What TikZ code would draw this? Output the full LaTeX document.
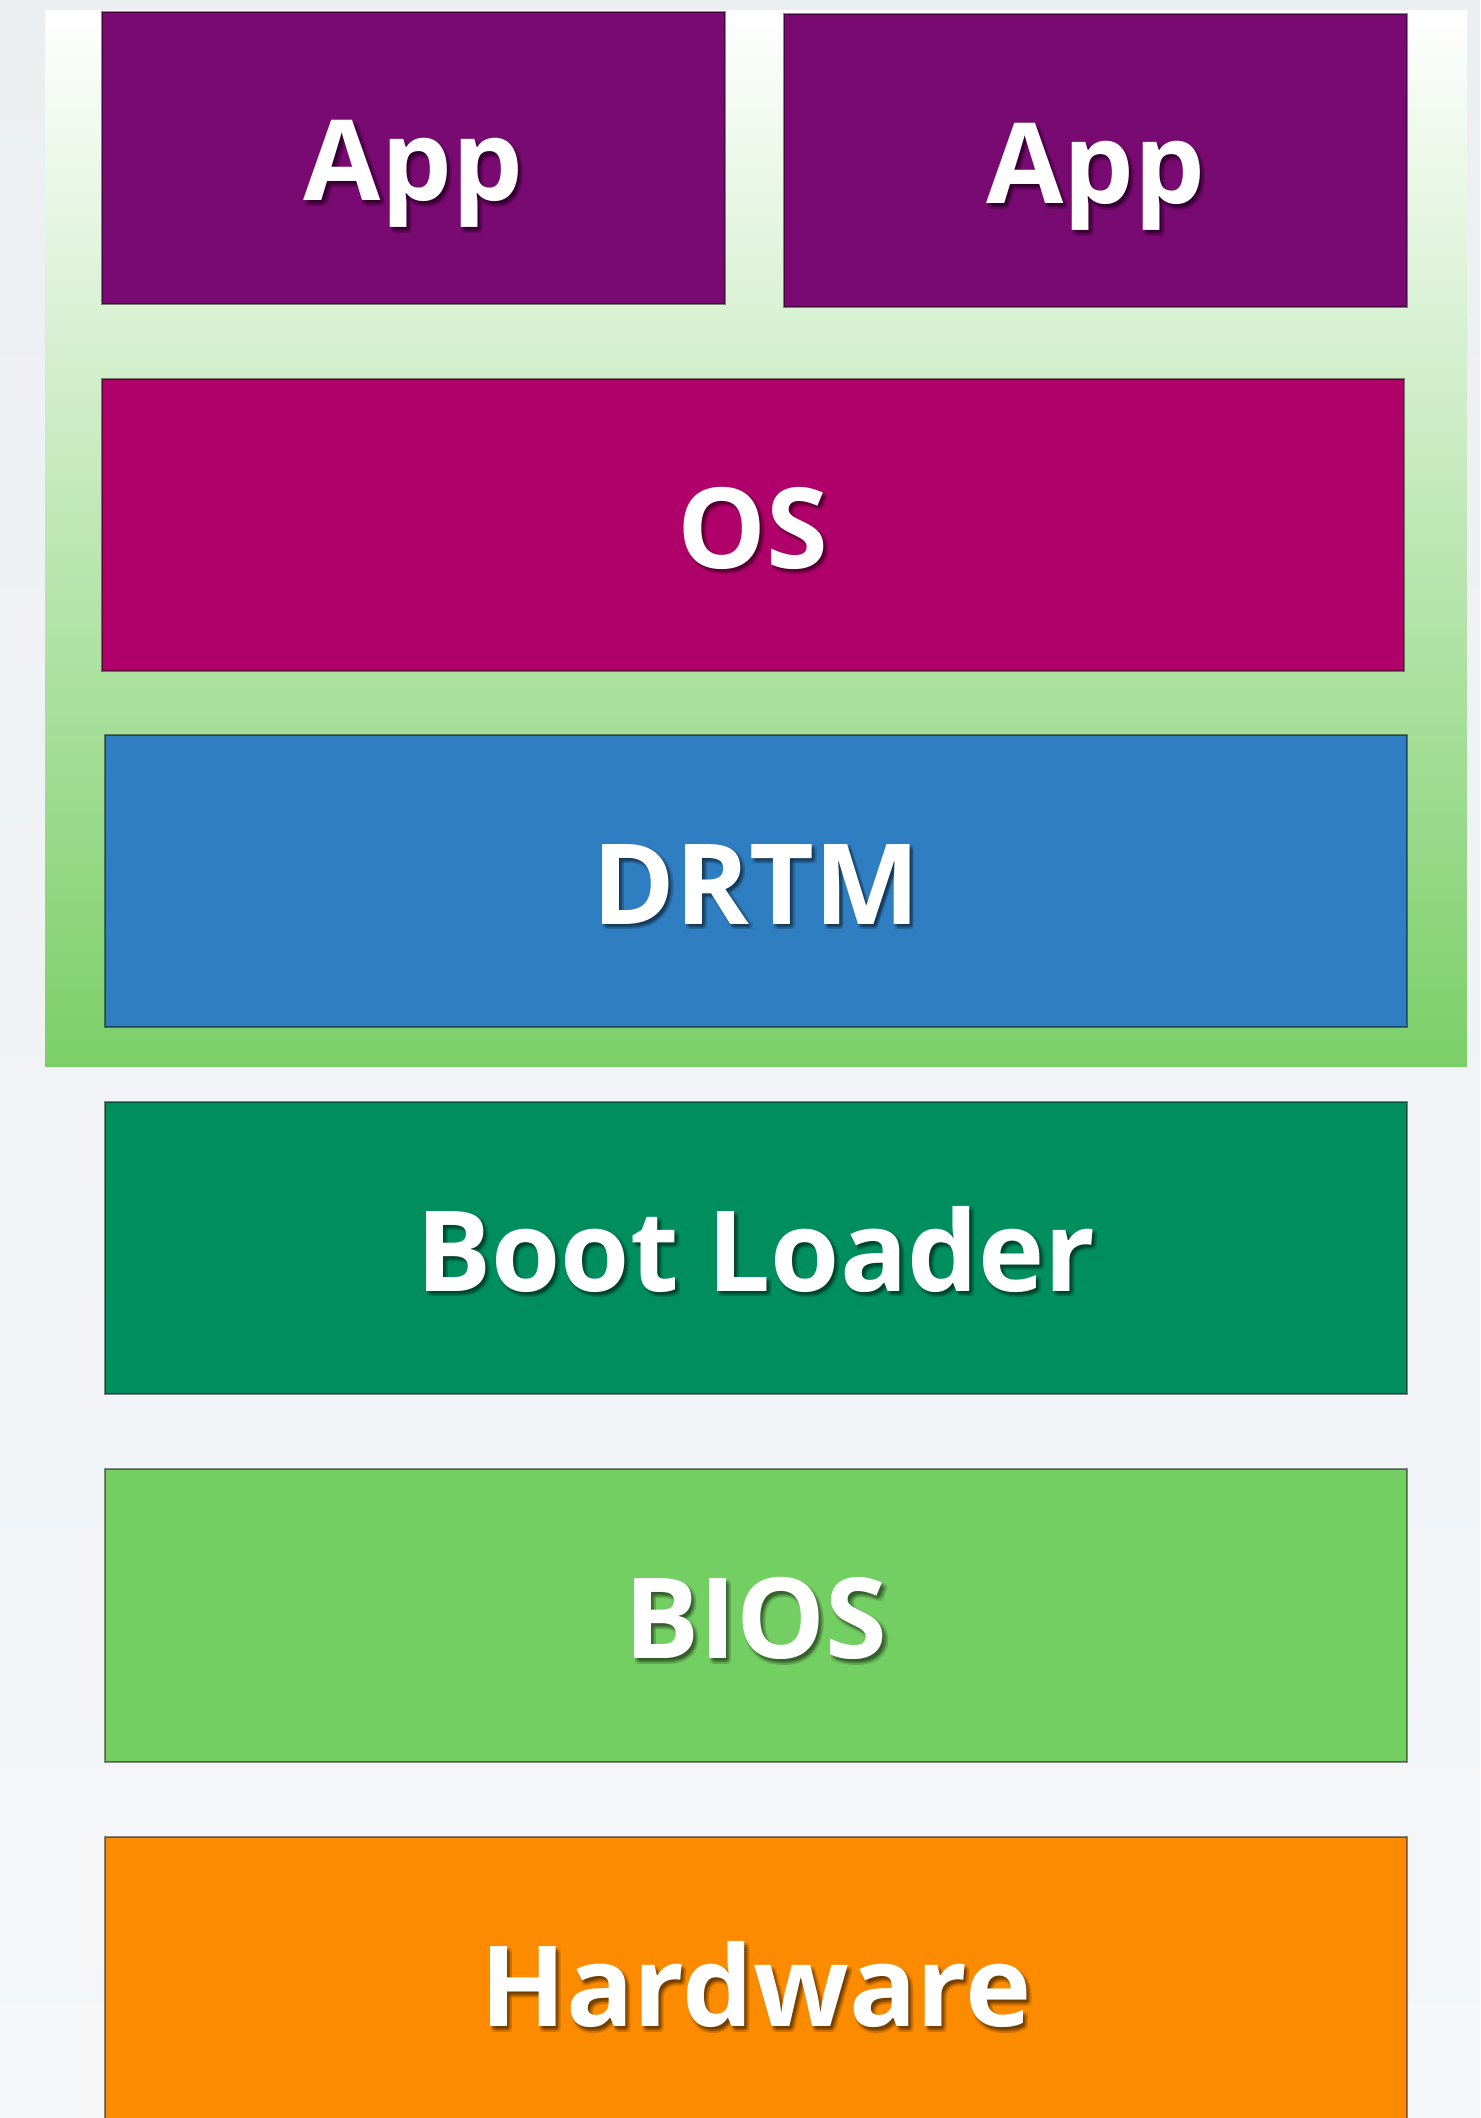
\documentclass[tikz,border=0pt]{standalone}
\usepackage{fontspec}
\setmainfont{Open Sans}
\definecolor{pagetop}{HTML}{ECEFF2}
\definecolor{pagebot}{HTML}{F5F7F9}
\definecolor{trustgreen}{HTML}{7BCF68}
\definecolor{appc}{HTML}{790A72}
\definecolor{osc}{HTML}{B0006A}
\definecolor{drtmc}{HTML}{2E7EC1}
\definecolor{bootc}{HTML}{018E5E}
\definecolor{biosc}{HTML}{74CF63}
\definecolor{hwc}{HTML}{FD8B00}
% one shifted copy of a label, taking no width
\newcommand\shadecopy[3]{\makebox[0pt][l]{\hspace*{#1pt}\raisebox{-#2pt}{#3}}}
% white label over a soft dark drop shadow
\newcommand\softlabel[1]{%
  {\color{black}\pgfsetfillopacity{0.065}%
   \shadecopy{0.5}{0.8}{#1}\shadecopy{1.5}{0.8}{#1}\shadecopy{2.5}{0.8}{#1}%
   \shadecopy{0.5}{1.8}{#1}\shadecopy{1.5}{1.8}{#1}\shadecopy{2.5}{1.8}{#1}%
   \shadecopy{0.5}{2.8}{#1}\shadecopy{1.5}{2.8}{#1}\shadecopy{2.5}{2.8}{#1}%
   \shadecopy{1.5}{1.5}{#1}\shadecopy{1.0}{2.2}{#1}}%
  \pgfsetfillopacity{1}#1}
\begin{document}
\begin{tikzpicture}[x=0.5pt,y=-0.5pt,
  layer/.style={draw=black, draw opacity=0.45, line width=0.6pt},
  lbl/.style={anchor=base, inner sep=0pt, text=white, font=\fontsize{56}{60}\selectfont\bfseries}
]
% page background and the trusted (green) region
\useasboundingbox (0,0) rectangle (1480,2118);
\shade[top color=pagetop, bottom color=pagebot] (0,0) rectangle (1480,2118);
\shade[top color=white, bottom color=trustgreen] (45,11) rectangle (1467,1066);

% the stack of layers
\path[layer, fill=appc]  (102,12)   rectangle (725,304)   coordinate[pos=0.5] (app1);
\path[layer, fill=appc]  (784,14)   rectangle (1407,307)  coordinate[pos=0.5] (app2);
\path[layer, fill=osc]   (102,379)  rectangle (1404,671)  coordinate[pos=0.5] (os);
\path[layer, fill=drtmc] (105,735)  rectangle (1407,1027) coordinate[pos=0.5] (drtm);
\path[layer, fill=bootc] (105,1102) rectangle (1407,1394) coordinate[pos=0.5] (boot);
\path[layer, fill=biosc] (105,1469) rectangle (1407,1762) coordinate[pos=0.5] (bios);
\path[layer, fill=hwc]   (105,1837) rectangle (1407,2130) coordinate[pos=0.5] (hw);

% labels
\foreach \c/\t in {app1/App, app2/App, os/OS, drtm/DRTM, boot/Boot Loader, bios/BIOS, hw/Hardware}{
  \node[lbl] (\c-text) at ([shift={(0,43)}]\c) {\softlabel{\t}};
}
\end{tikzpicture}
\end{document}
